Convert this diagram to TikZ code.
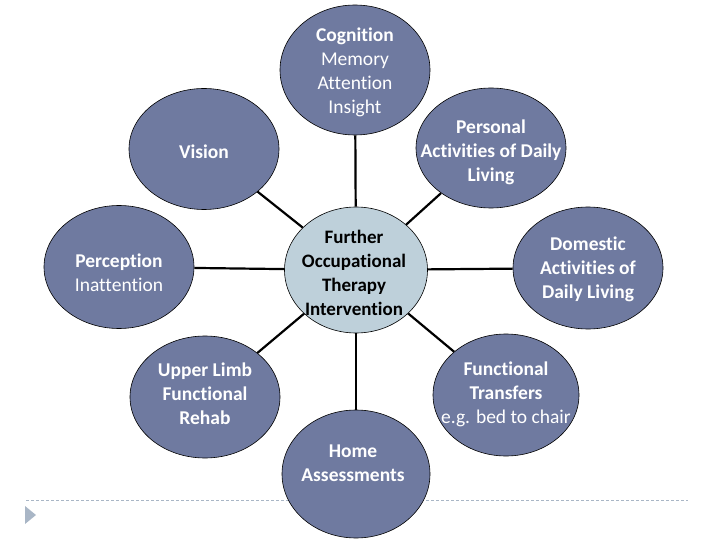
\documentclass[tikz,border=0pt]{standalone}
\usepackage{fontspec}
\setmainfont{Carlito}[Ligatures={NoCommon,NoRequired,NoContextual}]
\usetikzlibrary{shapes.geometric}

\definecolor{slate}{HTML}{6F7AA0}
\definecolor{hubblue}{HTML}{BED0DA}
\definecolor{rulegrey}{HTML}{A9B6C6}

\begin{document}
\begin{tikzpicture}[
    x=1pt, y=-1pt,
    outer/.style={ellipse, draw=black, fill=slate, line width=0.6pt,
                  minimum width=150pt, minimum height=123pt, inner sep=0pt},
    hub/.style={ellipse, draw=black, fill=hubblue, line width=0.6pt,
                minimum width=143pt, minimum height=126pt, inner sep=0pt},
    outtext/.style={align=center, text=white, inner sep=0pt,
                    font=\fontsize{19.5}{24}\selectfont\bfseries},
    hubtext/.style={align=center, text=black, inner sep=0pt,
                    font=\fontsize{19}{24}\selectfont\bfseries},
    link/.style={draw=black, line width=2.2pt}
  ]
    \useasboundingbox (0,0) rectangle (720,540);

    % footer rule and marker
    \draw[rulegrey, line width=0.8pt, dash pattern=on 3pt off 2pt] (26,500) -- (688,500);
    \fill[rulegrey] (25,506) -- (36,515) -- (25,524) -- cycle;

    % Hub
    \node[hub] (hub) at (356,270) {};

    % Outer circles
    \node[outer, minimum height=130pt] (cog) at (355,70) {};
    \node[outer, minimum height=121pt] (vision) at (204,149) {};
    \node[outer, minimum height=120pt] (pers) at (491,148) {};
    \node[outer] (perc) at (119,267) {};
    \node[outer, minimum height=122pt] (dom) at (588,268) {};
    \node[outer, minimum height=122pt] (upper) at (205,397) {};
    \node[outer, minimum width=146pt, minimum height=122pt] (trans) at (506,395) {};
    \node[outer, minimum width=148pt, minimum height=128pt] (home) at (356,474) {};

    % Texts
    \node[outtext] (cog-t) at (355,72) {Cognition\\\mdseries Memory\\\mdseries Attention\\\mdseries Insight};
    \node[outtext] (vision-t) at (204,152) {Vision};
    \node[outtext] (pers-t) at (491,152) {Personal\\Activities of Daily\\Living};
    \node[outtext] (perc-t) at (119,273) {Perception\\\mdseries Inattention};
    \node[outtext] (dom-t) at (588,269) {Domestic\\Activities of\\Daily Living};
    \node[outtext] (upper-t) at (205,394) {Upper Limb\\Functional\\Rehab};
    \node[outtext] (trans-t) at (506,394) {Functional\\Transfers\\\mdseries e.g. bed to chair};
    \node[outtext] (home-t) at (353,463) {Home\\Assessments};
    \node[hubtext] (hub-t) at (354,273) {Further\\Occupational\\Therapy\\Intervention};

    % Connectors
    \draw[link] (hub) -- (cog);
    \draw[link] (hub) -- (vision);
    \draw[link] (hub) -- (pers);
    \draw[link] (hub) -- (perc);
    \draw[link] (hub) -- (dom);
    \draw[link] (hub) -- (upper);
    \draw[link] (hub) -- (trans);
    \draw[link] (hub) -- (home);

\end{tikzpicture}
\end{document}
